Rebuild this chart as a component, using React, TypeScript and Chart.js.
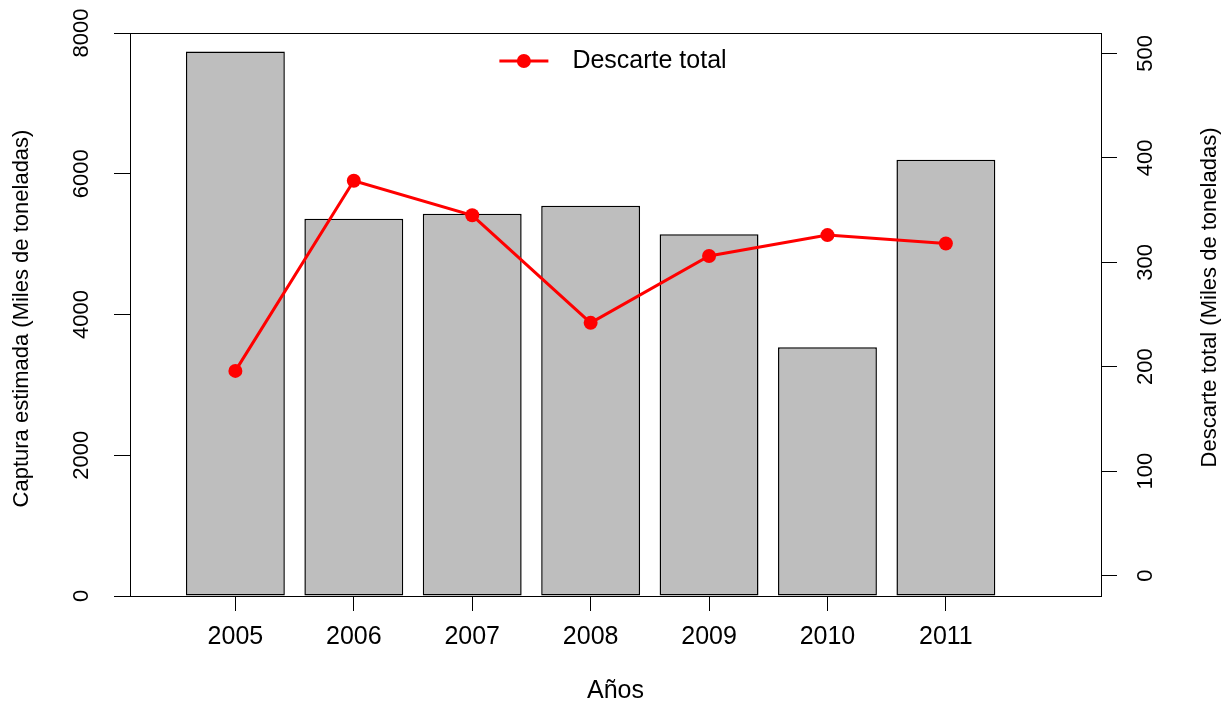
import React, { useEffect, useRef } from 'react';
import { Chart, registerables } from 'chart.js';

Chart.register(...registerables);

const years = ['2005', '2006', '2007', '2008', '2009', '2010', '2011'];
const capturaEstimada = [7738, 5360, 5431, 5545, 5142, 3536, 6199];
const descarteTotal = [196, 378, 345, 242, 306, 326, 318];
const leftTicks = [0, 2000, 4000, 6000, 8000];
const rightTicks = [0, 100, 200, 300, 400, 500];

const xTitle = 'Años';
const leftTitle = 'Captura estimada (Miles de toneladas)';
const rightTitle = 'Descarte total (Miles de toneladas)';
const lineLabel = 'Descarte total';

const FONT = '"Liberation Sans", Arial, Helvetica, sans-serif';

export default function App() {
  const ref = useRef<HTMLCanvasElement>(null);

  useEffect(() => {
    const canvas = ref.current;
    if (!canvas) return;

    const decorPlugin = {
      id: 'decor',
      afterDraw(chart: any) {
        const { ctx, chartArea } = chart;
        ctx.save();
        // plot box
        ctx.strokeStyle = '#000';
        ctx.lineWidth = 1;
        const l = Math.round(chartArea.left - 0.5) + 0.5;
        const r = Math.round(chartArea.right - 0.5) + 0.5;
        const t = Math.round(chartArea.top - 0.5) + 0.5;
        const b = Math.round(chartArea.bottom - 0.5) + 0.5;
        ctx.strokeRect(l, t, r - l, b - t);

        // legend
        ctx.font = `25px ${FONT}`;
        const tw = ctx.measureText(lineLabel).width;
        const lineLen = 49;
        const gap = 24;
        const total = lineLen + gap + tw;
        const cx = (chartArea.left + chartArea.right) / 2;
        const x0 = cx - total / 2 - 2.5;
        const y = chartArea.top + 28;
        ctx.strokeStyle = '#FF0000';
        ctx.lineWidth = 3;
        ctx.beginPath();
        ctx.moveTo(x0, y);
        ctx.lineTo(x0 + lineLen, y);
        ctx.stroke();
        ctx.fillStyle = '#FF0000';
        ctx.beginPath();
        ctx.arc(x0 + lineLen / 2, y, 7, 0, Math.PI * 2);
        ctx.fill();
        ctx.fillStyle = '#000';
        ctx.textAlign = 'left';
        ctx.textBaseline = 'middle';
        ctx.fillText(lineLabel, x0 + lineLen + gap, y);

        // axis titles (rotated, reading bottom to top)
        ctx.font = `22px ${FONT}`;
        ctx.textAlign = 'center';
        ctx.textBaseline = 'middle';
        ctx.save();
        ctx.translate(21.7, 318.5);
        ctx.rotate(-Math.PI / 2);
        ctx.fillText(leftTitle, 0, 0);
        ctx.restore();
        ctx.save();
        ctx.translate(chart.width - 21, 297.5);
        ctx.rotate(-Math.PI / 2);
        ctx.fillText(rightTitle, 0, 0);
        ctx.restore();
        ctx.restore();
      },
    };

    const chart = new Chart(canvas, {
      type: 'bar',
      data: {
        datasets: [
          {
            type: 'line',
            label: lineLabel,
            data: descarteTotal.map((v, i) => ({ x: i, y: v })),
            xAxisID: 'x',
            yAxisID: 'y2',
            borderColor: '#FF0000',
            backgroundColor: '#FF0000',
            borderWidth: 3,
            pointRadius: 7,
            pointHoverRadius: 7,
            pointBackgroundColor: '#FF0000',
            pointBorderColor: '#FF0000',
            pointBorderWidth: 0,
            tension: 0,
            order: 0,
          } as any,
          {
            type: 'bar',
            label: 'Captura estimada',
            data: capturaEstimada.map((v, i) => ({ x: i, y: v })),
            xAxisID: 'x',
            yAxisID: 'y',
            backgroundColor: '#BEBEBE',
            borderColor: '#000000',
            borderWidth: 1.5,
            borderSkipped: false,
            categoryPercentage: 1,
            barPercentage: 0.835,
            order: 1,
          } as any,
        ],
      },
      options: {
        animation: false,
        responsive: false,
        devicePixelRatio: 1,
        layout: { padding: { top: 33, left: 0, right: 0, bottom: 0 } },
        plugins: {
          legend: { display: false },
          tooltip: { enabled: false },
        },
        scales: {
          x: {
            type: 'linear',
            position: 'bottom',
            min: -0.89,
            max: 7.31,
            bounds: 'data',
            offset: false,
            afterBuildTicks: (s: any) => {
              s.ticks = years.map((_, i) => ({ value: i }));
            },
            afterFit: (s: any) => {
              s.height = 110;
            },
            ticks: {
              callback: (v: any) => years[v] ?? '',
              font: { family: FONT, size: 25 },
              color: '#000',
              padding: 11.5,
              maxRotation: 0,
              minRotation: 0,
              autoSkip: false,
            },
            grid: {
              display: true,
              drawOnChartArea: false,
              drawTicks: true,
              tickLength: 15,
              tickColor: '#000',
              color: '#000',
              offset: false,
            },
            border: { display: true, color: '#000', width: 1 },
            title: {
              display: true,
              text: xTitle,
              font: { family: FONT, size: 25 },
              color: '#000',
              padding: { top: 0, bottom: 0 },
            },
          } as any,
          y: {
            type: 'linear',
            position: 'left',
            min: 0,
            max: 8000,
            bounds: 'data',
            afterBuildTicks: (s: any) => {
              s.ticks = leftTicks.map((v) => ({ value: v }));
            },
            afterFit: (s: any) => {
              s.width = 130;
            },
            ticks: {
              callback: (v: any) => String(v),
              font: { family: FONT, size: 22 },
              color: '#000',
              padding: 7.3,
              minRotation: 90,
              maxRotation: 90,
              crossAlign: 'center',
            },
            grid: {
              display: true,
              drawOnChartArea: false,
              drawTicks: true,
              tickLength: 16,
              tickColor: '#000',
              color: '#000',
            },
            border: { display: true, color: '#000', width: 1 },
          } as any,
          y2: {
            type: 'linear',
            position: 'right',
            min: -19.5,
            max: 519.5,
            bounds: 'data',
            afterBuildTicks: (s: any) => {
              s.ticks = rightTicks.map((v) => ({ value: v }));
            },
            afterFit: (s: any) => {
              s.width = 130;
            },
            ticks: {
              callback: (v: any) => String(v),
              font: { family: FONT, size: 22 },
              color: '#000',
              padding: 10.3,
              minRotation: 90,
              maxRotation: 90,
              crossAlign: 'center',
            },
            grid: {
              display: true,
              drawOnChartArea: false,
              drawTicks: true,
              tickLength: 16,
              tickColor: '#000',
              color: '#000',
            },
            border: { display: true, color: '#000', width: 1 },
          } as any,
        },
      },
      plugins: [decorPlugin],
    });

    return () => {
      chart.destroy();
    };
  }, []);

  return (
    <div style={{ position: 'fixed', left: 0, top: 0, width: 1231, height: 706, background: '#fff' }}>
      <canvas ref={ref} width={1231} height={706} style={{ display: 'block', width: 1231, height: 706 }} />
    </div>
  );
}
